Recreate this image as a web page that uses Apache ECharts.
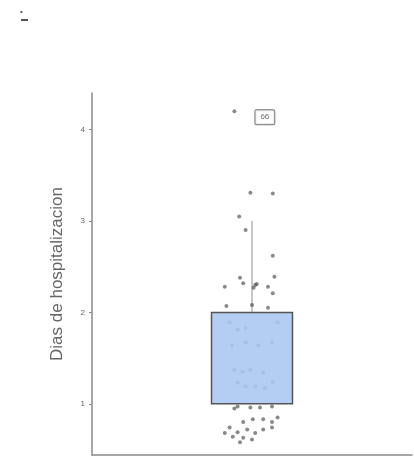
<!DOCTYPE html>
<html><head><meta charset="utf-8">
<script src="https://cdn.jsdelivr.net/npm/echarts@6/dist/echarts.min.js"></script>
<style>html,body{margin:0;padding:0;background:#fff}#c{width:414px;height:460px}</style>
</head><body><div id="c"></div>
<script>
const categories = [''];
const yTicks = [1, 2, 3, 4];
const yAxisName = 'Dias de hospitalizacion';
// [min, Q1, median, Q3, max] of the box, whisker drawn separately
const boxStats = [[1, 1, 1, 2, 2]];
const whisker = [[0, 2], [0, 3]];
// jittered points: [jitter, days]
const pointsAbove = [
  [-0.01,3.31],[0.13,3.30],[-0.08,3.05],[-0.04,2.90],[0.13,2.62],[-0.075,2.38],[-0.055,2.32],
  [0.02,2.30],[0.03,2.31],[0.01,2.27],[0.10,2.28],[0.14,2.39],[-0.17,2.28],[0.13,2.21],
  [-0.16,2.07],[0.0,2.08],[0.10,2.05]
];
const pointsInside = [
  [-0.14,1.89],[-0.09,1.81],[-0.04,1.83],[-0.125,1.64],[-0.04,1.67],[0.04,1.64],[0.125,1.67],
  [0.16,1.89],[-0.11,1.37],[-0.06,1.35],[-0.01,1.37],[0.07,1.34],[-0.09,1.23],[-0.04,1.19],
  [0.02,1.19],[0.08,1.17],[0.13,1.24]
];
const pointsBelow = [
  [-0.09,0.97],[-0.01,0.96],[0.05,0.96],[0.125,0.97],[-0.11,0.95],[-0.055,0.80],[0.005,0.83],
  [0.07,0.83],[0.125,0.80],[0.16,0.85],[-0.14,0.74],[-0.09,0.69],[-0.03,0.72],[0.02,0.68],
  [0.07,0.72],[0.125,0.74],[-0.17,0.68],[-0.12,0.64],[-0.055,0.63],[0.0,0.61],[-0.075,0.58]
];
const outlier = [[-0.11, 4.20, '66']];

const chart = echarts.init(document.getElementById('c'));
const ptStyle = {color: 'rgba(60,60,60,0.75)'};
chart.setOption({
  animation: false,
  grid: {left: 92, right: 2, top: 93, bottom: 5},
  graphic: [
    {type: 'text', left: 20, top: 8, style: {text: '•', fontSize: 8, fill: '#555'}},
    {type: 'rect', shape: {x: 21, y: 19, width: 7, height: 2}, style: {fill: '#555'}}
  ],
  xAxis: [
    {type: 'category', data: categories, axisLine: {onZero: false, lineStyle: {color: '#8a8a8a', width: 1.5}},
     axisTick: {show: false}, axisLabel: {show: false}},
    {type: 'value', min: -1, max: 1, show: false}
  ],
  yAxis: {
    type: 'value', min: 0.44, max: 4.4,
    name: yAxisName, nameLocation: 'middle', nameGap: 26,
    nameTextStyle: {fontFamily: 'Liberation Sans', fontSize: 17, color: '#666'},
    axisLine: {show: true, onZero: false, lineStyle: {color: '#8a8a8a', width: 1.5}},
    axisTick: {show: true, length: 3, customValues: yTicks, lineStyle: {color: '#888'}},
    axisLabel: {customValues: yTicks, fontSize: 8, color: '#666', margin: 7, fontFamily: 'Liberation Sans'},
    splitLine: {show: false}
  },
  series: [
    {type: 'scatter', xAxisIndex: 1, data: pointsInside, symbolSize: 4, itemStyle: ptStyle, z: 1},
    {type: 'line', xAxisIndex: 1, data: whisker, symbol: 'none', z: 1,
     lineStyle: {color: '#a0a0a0', width: 1.2}},
    {type: 'boxplot', data: boxStats, boxWidth: [81, 81], z: 2,
     itemStyle: {color: 'rgba(170,198,240,0.88)', borderColor: '#555', borderWidth: 1.5}},
    {type: 'scatter', xAxisIndex: 1, data: pointsAbove.concat(pointsBelow), symbolSize: 4, itemStyle: ptStyle, z: 3},
    {type: 'scatter', xAxisIndex: 1, data: outlier, symbolSize: 4, itemStyle: ptStyle, z: 3,
     label: {show: true, position: 'right', distance: 19, offset: [0, 6], formatter: p => p.data[2],
       fontSize: 8, color: '#444', backgroundColor: '#fff', borderColor: '#555', borderWidth: 1,
       padding: [3, 5], borderRadius: 1}}
  ]
});
</script></body></html>
